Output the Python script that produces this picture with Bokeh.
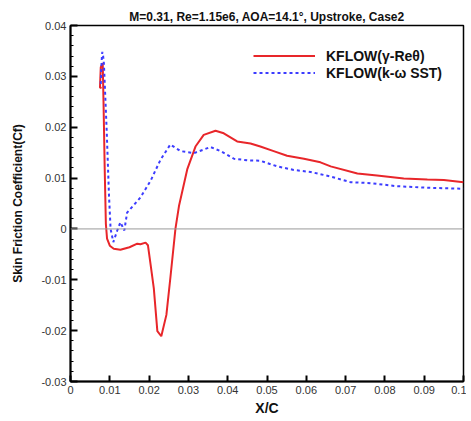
from bokeh.plotting import figure
from bokeh.models import (Span, Legend, LegendItem, SingleIntervalTicker,
                          CustomJSTickFormatter, Range1d)
from bokeh.embed import file_html
from bokeh.resources import INLINE

# gamma-Re_theta model (red, solid)
red_x = [0.0079, 0.0075, 0.0077, 0.0082, 0.0084, 0.0087, 0.0090, 0.0093,
         0.0100, 0.0110, 0.0127, 0.0150, 0.0170, 0.0178, 0.0191, 0.0197,
         0.0204, 0.0212, 0.0221, 0.0231, 0.0244, 0.0254, 0.0267, 0.0276,
         0.0297, 0.0318, 0.0339, 0.0369, 0.0390, 0.0424, 0.0458, 0.0483,
         0.0517, 0.0551, 0.0594, 0.0636, 0.0662, 0.0730, 0.0780, 0.0848,
         0.0908, 0.0950, 0.1000]
red_cf = [0.0277, 0.0278, 0.0318, 0.0326, 0.0250, 0.0120, 0.0010, -0.0019,
          -0.0033, -0.0039, -0.0041, -0.0036, -0.0029, -0.0030, -0.0027, -0.0032,
          -0.0071, -0.0117, -0.0201, -0.0211, -0.0169, -0.0097, 0.0000, 0.0045,
          0.0117, 0.0162, 0.0185, 0.0193, 0.0188, 0.0172, 0.0168, 0.0162,
          0.0153, 0.0144, 0.0138, 0.0131, 0.0123, 0.0109, 0.0105, 0.0099,
          0.0097, 0.0096, 0.0092]

# k-omega SST model (blue, dashed)
blue_x = [0.0077, 0.0078, 0.0080, 0.0081, 0.0083, 0.0085, 0.0092, 0.0098,
          0.0102, 0.0109, 0.0119, 0.0127, 0.0137, 0.0144, 0.0178, 0.0204,
          0.0229, 0.0254, 0.0280, 0.0314, 0.0356, 0.0382, 0.0416, 0.0450,
          0.0483, 0.0526, 0.0568, 0.0611, 0.0662, 0.0712, 0.0763, 0.0831,
          0.0908, 0.1000]
blue_cf = [0.0285, 0.0310, 0.0340, 0.0348, 0.0340, 0.0325, 0.0195, 0.0065,
           0.0000, -0.0026, -0.0003, 0.0013, -0.0003, 0.0032, 0.0062, 0.0095,
           0.0136, 0.0166, 0.0153, 0.0149, 0.0161, 0.0153, 0.0138, 0.0135,
           0.0134, 0.0123, 0.0116, 0.0112, 0.0103, 0.0092, 0.0090, 0.0084,
           0.0081, 0.0079]

series_labels = ["KFLOW(\u03b3-Re\u03b8)", "KFLOW(k-\u03c9 SST)"]
title_text = "M=0.31, Re=1.15e6, AOA=14.1\u00b0, Upstroke, Case2"
x_label = "X/C"
y_label = "Skin Friction Coefficient(Cf)"

FONT = "Liberation Sans"

p = figure(width=466, height=418, output_backend="svg", toolbar_location=None,
           x_range=Range1d(0, 0.1), y_range=Range1d(-0.03, 0.04),
           min_border_left=70, min_border_right=3, min_border_top=25,
           min_border_bottom=34)

p.title.text = title_text
p.title.text_font = FONT
p.title.text_font_size = "12px"
p.title.text_font_style = "bold"
p.title.align = "center"
p.title.text_color = "#111111"
p.title.standoff = 4
p.title.offset = 0

p.xgrid.visible = False
p.ygrid.visible = False
p.outline_line_color = "black"
p.outline_line_width = 1.5

# zero line
p.add_layout(Span(location=0, dimension="width", line_color="#999999",
                  line_width=1))

r1 = p.line(red_x, red_cf, line_color="#e8262a", line_width=2)
r2 = p.line(blue_x, blue_cf, line_color="#3c3cff", line_width=2,
            line_dash="3 3")

fmt = CustomJSTickFormatter(code="return String(Math.round(tick*1000)/1000);")

xa = p.xaxis[0]
xa.ticker = SingleIntervalTicker(interval=0.01, num_minor_ticks=0)
xa.formatter = fmt
xa.axis_label = x_label
xa.axis_label_text_font = FONT
xa.axis_label_text_font_style = "bold"
xa.axis_label_text_font_size = "14px"
xa.axis_label_text_color = "#111111"
xa.axis_label_standoff = 3
xa.major_label_text_font = FONT
xa.major_label_text_font_size = "11px"
xa.major_label_text_color = "#333333"
xa.major_label_standoff = 4
xa.major_tick_in = 6
xa.major_tick_out = 0
xa.minor_tick_in = 0
xa.minor_tick_out = 0
xa.axis_line_width = 2
xa.major_tick_line_width = 2

ya = p.yaxis[0]
ya.ticker = SingleIntervalTicker(interval=0.01, num_minor_ticks=5)
ya.formatter = fmt
ya.axis_label = y_label
ya.axis_label_text_font = FONT
ya.axis_label_text_font_style = "bold"
ya.axis_label_text_font_size = "12px"
ya.axis_label_text_color = "#111111"
ya.axis_label_standoff = 13
ya.major_label_text_font = FONT
ya.major_label_text_font_size = "11px"
ya.major_label_text_color = "#333333"
ya.major_label_standoff = 4
ya.major_tick_in = 7
ya.major_tick_out = 0
ya.minor_tick_in = 3
ya.minor_tick_out = 0
ya.axis_line_width = 2
ya.major_tick_line_width = 2
ya.minor_tick_line_width = 1

legend = Legend(items=[LegendItem(label=series_labels[0], renderers=[r1]),
                       LegendItem(label=series_labels[1], renderers=[r2])],
                location=(183, 300), orientation="vertical")
legend.border_line_color = None
legend.background_fill_alpha = 0
legend.padding = 0
legend.margin = 0
legend.spacing = 0
legend.glyph_width = 62
legend.glyph_height = 17
legend.label_height = 17
legend.label_standoff = 11
legend.label_text_font = FONT
legend.label_text_font_size = "14px"
legend.label_text_font_style = "bold"
legend.label_text_color = "#111111"
p.add_layout(legend)

open("out.html", "w").write(file_html(p, INLINE))
